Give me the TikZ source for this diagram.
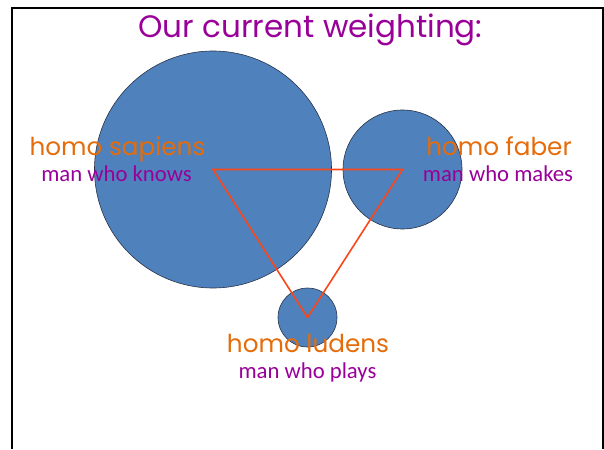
\documentclass[tikz,border=0pt]{standalone}
\usepackage{fontspec}
\setmainfont{Carlito}
\newfontfamily\handfont{Poppins}
\definecolor{blobblue}{RGB}{79,129,189}
\definecolor{latinorange}{RGB}{228,108,10}
\definecolor{meaningpurple}{RGB}{153,0,153}
\definecolor{linkred}{RGB}{250,70,25}

\begin{document}
\begin{tikzpicture}[x=1pt, y=-1pt, every node/.style={inner sep=0pt}]
  \tikzset{blob/.style={circle, inner sep=0pt, fill=blobblue, draw={rgb,255:red,40;green,50;blue,70}, line width=0.6pt}}
  \tikzset{latin/.style={anchor=base, text=latinorange, font=\handfont\fontsize{24.7}{29.6}\selectfont}}
  \tikzset{meaning/.style={anchor=base, text=meaningpurple, font=\fontsize{22.7}{27.2}\selectfont}}
  \tikzset{T/.style={draw=linkred, line width=1.6pt, line join=miter}}
  \useasboundingbox (0,0) rectangle (604,449);
  % frame
  \draw[line width=2pt] (12,449) -- (12,8) -- (603,8) -- (603,449);
  \node[anchor=base, text=meaningpurple, font=\handfont\fontsize{31.0}{37.2}\selectfont] (title) at (310.5,38.0) {Our current weighting:};
  \node[blob, minimum size=237pt] (sapiens) at (213.0,169.5) {};
  \node[blob, minimum size=119pt] (faber) at (402.5,169.5) {};
  \node[blob, minimum size=59pt] (ludens) at (307.5,317.5) {};
  % weighting triangle
  \draw[T] (sapiens.center) -- (faber.center) -- (ludens.center) -- cycle;
  \node[latin] (sapiensname) at (117.5,156.0) {homo sapiens};
  \node[meaning] (sapiensmeaning) at (116.5,182.0) {man who knows};
  \node[latin] (fabername) at (499.0,156.0) {homo faber};
  \node[meaning] (fabermeaning) at (498.0,181.0) {man who makes};
  \node[latin] (ludensname) at (308.0,352.0) {homo ludens};
  \node[meaning] (ludensmeaning) at (307.5,378.0) {man who plays};
\end{tikzpicture}
\end{document}
